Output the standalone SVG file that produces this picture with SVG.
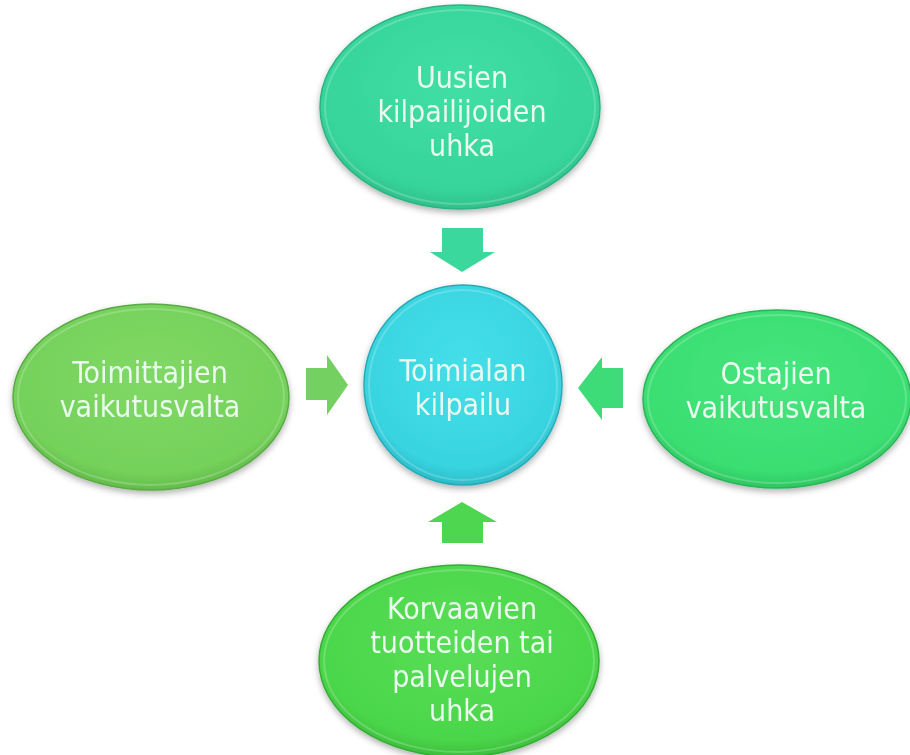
<svg xmlns="http://www.w3.org/2000/svg" width="910" height="755" viewBox="0 0 910 755">
<defs>
<radialGradient id="gTop" cx="50%" cy="40%" r="60%"><stop offset="0" stop-color="#40dfa6"/><stop offset="0.85" stop-color="#36d49b"/><stop offset="1" stop-color="#2fc08a"/></radialGradient>
<radialGradient id="gLeft" cx="50%" cy="40%" r="60%"><stop offset="0" stop-color="#80d965"/><stop offset="0.85" stop-color="#74d15a"/><stop offset="1" stop-color="#63bb4b"/></radialGradient>
<radialGradient id="gCenter" cx="50%" cy="40%" r="60%"><stop offset="0" stop-color="#45dfe9"/><stop offset="0.85" stop-color="#38d4e0"/><stop offset="1" stop-color="#2bbdc9"/></radialGradient>
<radialGradient id="gRight" cx="50%" cy="40%" r="60%"><stop offset="0" stop-color="#47e57e"/><stop offset="0.85" stop-color="#3ade71"/><stop offset="1" stop-color="#2fc662"/></radialGradient>
<radialGradient id="gBottom" cx="50%" cy="40%" r="60%"><stop offset="0" stop-color="#58de56"/><stop offset="0.85" stop-color="#4bd64a"/><stop offset="1" stop-color="#3dbf3d"/></radialGradient>
<filter id="sh" x="-10%" y="-10%" width="120%" height="125%"><feDropShadow dx="0" dy="3" stdDeviation="3" flood-color="#000" flood-opacity="0.3"/></filter>
</defs>
<style>
.t{font-family:"DejaVu Sans Condensed","DejaVu Sans","Liberation Sans",sans-serif;font-stretch:condensed;font-size:30px;fill:#eafaee;text-anchor:middle}
.rim{fill:none;stroke:#ffffff;stroke-opacity:0.2;stroke-width:2}
.edge{stroke-width:1.5}
</style>
<rect width="910" height="755" fill="#ffffff"/>
<g id="connectors">
<polygon id="a-top" points="442,228 483,228 483,252 495,252 462,272 430,252 442,252" fill="#3ad89c"/>
<polygon id="a-left" points="306,368 327,368 327,355 348,385 327,415 327,400 306,400" fill="#74d060"/>
<polygon id="a-right" points="623,368 602,368 602,357 578,388 602,420 602,408 623,408" fill="#3ddc78"/>
<polygon id="a-bottom" points="442,543 483,543 483,522 497,522 462,502 428,522 442,522" fill="#4fd650"/>
</g>
<g id="n-top" filter="url(#sh)">
<ellipse cx="460" cy="107" rx="140" ry="102" fill="url(#gTop)" stroke="#2db283" class="edge"/>
<ellipse cx="460" cy="107" rx="135" ry="97" class="rim"/>
<text class="t" x="462" y="88">Uusien</text>
<text class="t" x="462" y="122">kilpailijoiden</text>
<text class="t" x="462" y="156">uhka</text>
</g>
<g id="n-left" filter="url(#sh)">
<ellipse cx="151" cy="397" rx="138" ry="93" fill="url(#gLeft)" stroke="#5aab44" class="edge"/>
<ellipse cx="151" cy="397" rx="133" ry="88" class="rim"/>
<text class="t" x="150" y="383">Toimittajien</text>
<text class="t" x="150" y="417">vaikutusvalta</text>
</g>
<g id="n-center" filter="url(#sh)">
<ellipse cx="463" cy="385" rx="99" ry="100" fill="url(#gCenter)" stroke="#27abb6" class="edge"/>
<ellipse cx="463" cy="385" rx="94" ry="95" class="rim"/>
<text class="t" x="463" y="381">Toimialan</text>
<text class="t" x="463" y="415">kilpailu</text>
</g>
<g id="n-right" filter="url(#sh)">
<ellipse cx="777" cy="399" rx="134" ry="89" fill="url(#gRight)" stroke="#2ab45a" class="edge"/>
<ellipse cx="777" cy="399" rx="129" ry="84" class="rim"/>
<text class="t" x="776" y="384">Ostajien</text>
<text class="t" x="776" y="418">vaikutusvalta</text>
</g>
<g id="n-bottom" filter="url(#sh)">
<ellipse cx="459" cy="661" rx="140" ry="96" fill="url(#gBottom)" stroke="#36ad36" class="edge"/>
<ellipse cx="459" cy="661" rx="135" ry="91" class="rim"/>
<text class="t" x="462" y="619">Korvaavien</text>
<text class="t" x="462" y="653">tuotteiden tai</text>
<text class="t" x="462" y="687">palvelujen</text>
<text class="t" x="462" y="721">uhka</text>
</g>
</svg>
